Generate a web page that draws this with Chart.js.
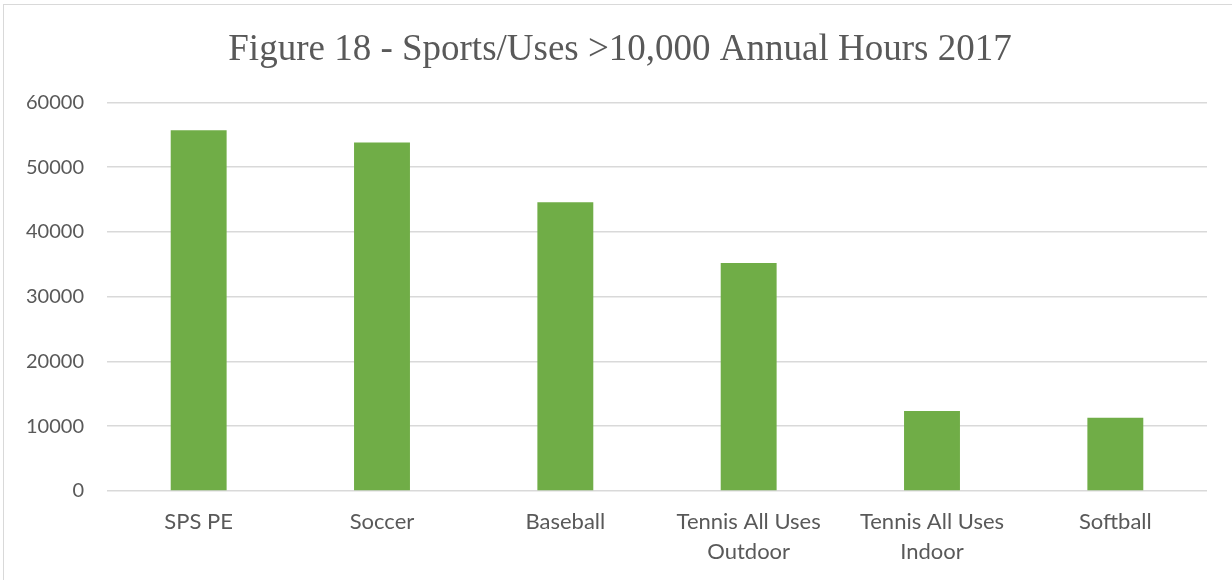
<!DOCTYPE html>
<html>
<head>
<meta charset="utf-8">
<script src="https://cdn.jsdelivr.net/npm/chart.js@4.4.1/dist/chart.umd.min.js"></script>
<style>
  html, body { margin: 0; padding: 0; background: #ffffff; overflow: hidden; }
  #wrap { position: relative; width: 1232px; height: 580px; }
  #frame {
    position: absolute; left: 3px; top: 4px; width: 1240px; height: 590px;
    border: 1px solid #d9d9d9; box-sizing: border-box; pointer-events: none;
  }
</style>
</head>
<body>
<div id="wrap">
  <canvas id="chart-0" width="1232" height="580"></canvas>
  <div id="frame"></div>
</div>
<script>
/**
 * DATA
 */
const title = "Figure 18 - Sports/Uses >10,000 Annual Hours 2017";
const categories = [
  "SPS PE",
  "Soccer",
  "Baseball",
  ["Tennis All Uses", "Outdoor"],
  ["Tennis All Uses", "Indoor"],
  "Softball"
];
const annualHours = [55700, 53800, 44600, 35200, 12350, 11300];
const yTicks = [0, 10000, 20000, 30000, 40000, 50000, 60000];

const barColor = "#70AD47";
const textColor = "#595959";
const gridColor = "#d9d9d9";
const labelFont = "Lato, 'Liberation Sans', sans-serif";

/**
 * Chart
 */
const setChart = (id) => {
  return new Chart(
    document.getElementById(id),
    {
      type: 'bar',
      data: {
        labels: categories,
        datasets: [
          {
            label: "Annual Hours",
            data: annualHours,
            backgroundColor: barColor,
            borderWidth: 0,
            categoryPercentage: 1,
            barPercentage: 0.305
          }
        ]
      },
      options: {
        responsive: false,
        animation: false,
        layout: { padding: { left: 8, right: 0, top: 0, bottom: 0 } },
        plugins: {
          legend: { display: false },
          tooltip: { enabled: false },
          title: {
            display: true,
            text: title,
            color: textColor,
            font: { family: "'Liberation Serif', 'DejaVu Serif', serif", size: 37, weight: 'normal', lineHeight: 1.2 },
            padding: { top: 28, bottom: 30 }
          }
        },
        scales: {
          x: {
            grid: { display: false, drawTicks: false },
            border: { display: false },
            ticks: {
              color: textColor,
              font: { family: labelFont, size: 22, lineHeight: 1.36 },
              padding: 16,
              maxRotation: 0,
              autoSkip: false
            },
            afterFit: (scale) => { scale.height = 89; }
          },
          y: {
            min: 0,
            max: 60000,
            afterBuildTicks: (scale) => { scale.ticks = yTicks.map(v => ({ value: v })); },
            grid: { color: gridColor, lineWidth: 1.5, drawTicks: false },
            border: { display: false },
            ticks: {
              color: textColor,
              font: { family: labelFont, size: 20 },
              padding: 23,
              callback: (value) => String(value)
            },
            afterFit: (scale) => { scale.width = 99; }
          },
          // empty strip on the right so the plot stops short of the edge
          yRight: {
            position: 'right',
            min: 0,
            max: 60000,
            grid: { display: false, drawTicks: false },
            border: { display: false },
            ticks: { display: false },
            afterFit: (scale) => { scale.width = 25; }
          }
        }
      }
    }
  );
}

document.addEventListener("DOMContentLoaded", () => {
  setChart("chart-0");
});
</script>
</body>
</html>
